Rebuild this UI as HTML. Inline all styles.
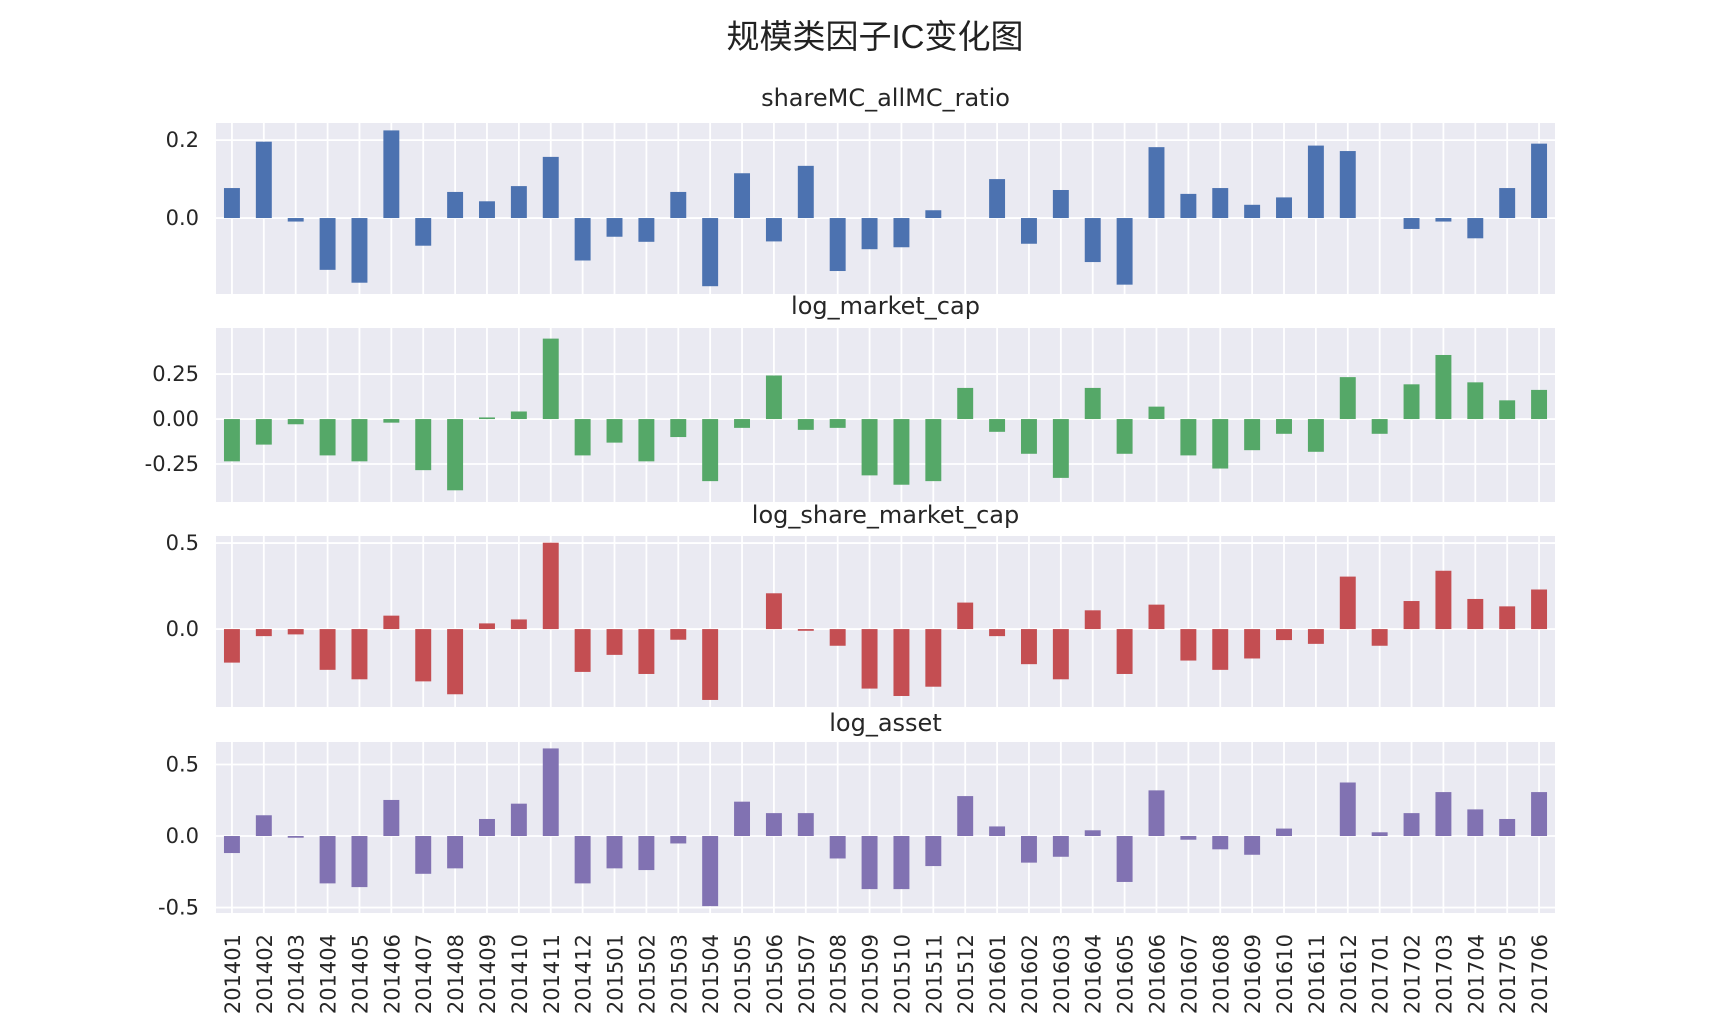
<!DOCTYPE html>
<html><head><meta charset="utf-8"><style>
html,body{margin:0;padding:0;background:#fff;}
svg{display:block;}
</style></head><body>
<svg id="chart" width="1729" height="1026" viewBox="0 0 1729 1026" xmlns="http://www.w3.org/2000/svg">
<text x="875" y="48" text-anchor="middle" font-family="'Liberation Sans','Noto Sans CJK SC',sans-serif" font-size="33" fill="#222">规模类因子IC变化图</text>
</svg>
<script>
const categories = ["201401","201402","201403","201404","201405","201406","201407","201408","201409","201410","201411","201412","201501","201502","201503","201504","201505","201506","201507","201508","201509","201510","201511","201512","201601","201602","201603","201604","201605","201606","201607","201608","201609","201610","201611","201612","201701","201702","201703","201704","201705","201706"];
const shareRatio = [0.077,0.196,-0.009,-0.133,-0.166,0.225,-0.071,0.067,0.043,0.082,0.157,-0.109,-0.048,-0.061,0.067,-0.175,0.115,-0.060,0.134,-0.136,-0.080,-0.075,0.020,0,0.100,-0.066,0.072,-0.113,-0.171,0.182,0.062,0.077,0.034,0.053,0.186,0.172,0,-0.028,-0.009,-0.052,0.077,0.191];
const logMarketCap = [-0.235,-0.142,-0.029,-0.202,-0.235,-0.020,-0.284,-0.396,0.009,0.042,0.447,-0.202,-0.131,-0.235,-0.100,-0.345,-0.049,0.242,-0.060,-0.049,-0.313,-0.365,-0.345,0.173,-0.071,-0.193,-0.327,0.173,-0.193,0.069,-0.202,-0.275,-0.173,-0.082,-0.182,0.233,-0.082,0.193,0.356,0.204,0.104,0.162];
const logShareMarketCap = [-0.195,-0.041,-0.031,-0.237,-0.292,0.078,-0.304,-0.379,0.033,0.056,0.502,-0.249,-0.150,-0.261,-0.062,-0.412,0,0.208,-0.010,-0.097,-0.346,-0.389,-0.335,0.154,-0.041,-0.204,-0.292,0.109,-0.261,0.142,-0.183,-0.237,-0.171,-0.064,-0.086,0.305,-0.097,0.163,0.339,0.175,0.132,0.230];
const logAsset = [-0.119,0.145,-0.012,-0.331,-0.357,0.252,-0.264,-0.226,0.119,0.226,0.612,-0.331,-0.226,-0.238,-0.052,-0.490,0.240,0.160,0.160,-0.157,-0.371,-0.371,-0.210,0.279,0.067,-0.186,-0.145,0.040,-0.321,0.319,-0.026,-0.093,-0.131,0.052,0,0.374,0.026,0.160,0.307,0.186,0.119,0.307];
const titles = ["shareMC_allMC_ratio","log_market_cap","log_share_market_cap","log_asset"];
const ticks1 = [0.2,0.0];
const ticks2 = [0.25,0.00,-0.25];
const ticks3 = [0.5,0.0];
const ticks4 = [0.5,0.0,-0.5];
const tickLabels1 = ["0.2","0.0"];
const tickLabels2 = ["0.25","0.00","-0.25"];
const tickLabels3 = ["0.5","0.0"];
const tickLabels4 = ["0.5","0.0","-0.5"];

const NS = "http://www.w3.org/2000/svg";
const svg = document.getElementById("chart");
const L = 216, R = 1555;
const n = categories.length;
const step = (R - L) / n;
function xCenter(i){ return L + (i + 0.5) * step; }
function mk(tag, attrs){ const e = document.createElementNS(NS, tag); for (const k in attrs) e.setAttribute(k, attrs[k]); return e; }

const panels = [
 {name:"share-ratio", vals:shareRatio, color:"#4c72b0", top:123, bottom:294, ymax:0.244, ymin:-0.195, ticks:ticks1, labels:tickLabels1, titleY:106},
 {name:"log-market-cap", vals:logMarketCap, color:"#55a868", top:328, bottom:502, ymax:0.506, ymin:-0.461, ticks:ticks2, labels:tickLabels2, titleY:314},
 {name:"log-share-market-cap", vals:logShareMarketCap, color:"#c44e52", top:536, bottom:707, ymax:0.541, ymin:-0.453, ticks:ticks3, labels:tickLabels3, titleY:523},
 {name:"log-asset", vals:logAsset, color:"#8172b2", top:742, bottom:913, ymax:0.657, ymin:-0.538, ticks:ticks4, labels:tickLabels4, titleY:731}
];

panels.forEach((p, pi) => {
  const g = mk("g", {});
  
  
  svg.appendChild(g);
  const yScale = v => p.top + (p.ymax - v) / (p.ymax - p.ymin) * (p.bottom - p.top);
  const bg = mk("rect", {x:L, y:p.top, width:R-L, height:p.bottom-p.top, fill:"#eaeaf2"});
  
  
  g.appendChild(bg);
  for (let i = 0; i < n; i++) {
    const gl = mk("line", {x1:xCenter(i), x2:xCenter(i), y1:p.top, y2:p.bottom, stroke:"#fff", "stroke-width":1.8});
    
    
    g.appendChild(gl);
  }
  p.ticks.forEach((t, ti) => {
    const y = yScale(t);
    const gl = mk("line", {x1:L, x2:R, y1:y, y2:y, stroke:"#fff", "stroke-width":1.8});
    
    
    g.appendChild(gl);
    const tl = mk("text", {x:199, y:y+7, "text-anchor":"end", "font-family":"'DejaVu Sans',sans-serif", "font-size":21, fill:"#262626"});
    tl.textContent = p.labels[ti];
    
    
    g.appendChild(tl);
  });
  const y0 = yScale(0);
  p.vals.forEach((v, i) => {
    const y = yScale(v);
    const bw = step * 0.5;
    const b = mk("rect", {x:xCenter(i)-bw/2, y:Math.min(y,y0), width:bw, height:Math.max(Math.abs(y-y0),0.01), fill:p.color});
    
    
    g.appendChild(b);
  });
  const tt = mk("text", {x:(L+R)/2, y:p.titleY, "text-anchor":"middle", "font-family":"'DejaVu Sans',sans-serif", "font-size":24, fill:"#262626"});
  tt.textContent = titles[pi];
  
  
  svg.appendChild(tt);
});

categories.forEach((c, i) => {
  const x = xCenter(i);
  const t = mk("text", {x:0, y:0, "text-anchor":"end", "font-family":"'DejaVu Sans',sans-serif", "font-size":21, fill:"#262626", transform:"translate(" + (x+8) + ",934) rotate(-90)"});
  t.textContent = c;
  
  
  svg.appendChild(t);
});
</script>
</body></html>
